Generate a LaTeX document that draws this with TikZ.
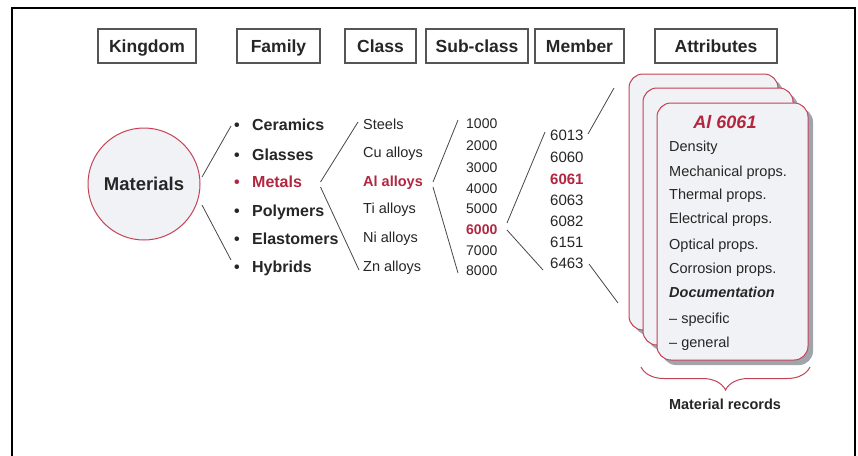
\documentclass[tikz,border=0pt]{standalone}
\usepackage{fontspec}
\setmainfont{Liberation Sans}
\usetikzlibrary{decorations.pathreplacing}
\definecolor{redtxt}{RGB}{178,38,64}
\definecolor{redline}{RGB}{196,66,86}
\definecolor{cardfill}{RGB}{241,242,245}
\definecolor{shadowc}{RGB}{160,164,172}
\definecolor{ink}{RGB}{38,38,38}
\definecolor{boxline}{RGB}{85,85,85}
\newcommand{\fs}[1]{\fontsize{#1}{#1}\selectfont}
\begin{document}
\begin{tikzpicture}[x=1pt,y=-1pt,
  hdr/.style={draw=boxline, line width=1.3pt, fill=white, font=\fs{17.5}\bfseries, text=ink, inner sep=0pt, minimum height=34pt, text height=12.6pt, text depth=0pt},
  txt/.style={anchor=west, inner sep=0pt, text=ink, text depth=0pt},
  fam/.style={txt, font=\fs{16}\bfseries, text height=11.5pt},
  cls/.style={txt, font=\fs{14.5}, text height=10.4pt},
  sub/.style={txt, font=\fs{14}, text height=10.1pt},
  mem/.style={txt, font=\fs{15}, text height=10.8pt},
  att/.style={txt, font=\fs{14.5}, text height=10.4pt},
  hil/.style={text=redtxt, font=\fs{#1}\bfseries},
  conn/.style={draw=ink!85, line width=0.8pt},
  card/.style={draw=redline, line width=1pt, fill=cardfill, rounded corners=14pt},
  cshadow/.style={fill=shadowc, rounded corners=14pt}
]
\useasboundingbox (0,0) rectangle (858,455);
\fill[white] (0,0) rectangle (858,455);
% frame
\draw[line width=2.6pt, black] (12,456) -- (12,8) -- (855,8) -- (855,456);

% headers
\node[hdr, minimum width=98pt] (hK) at (147,46) {Kingdom};
\node[hdr, minimum width=83pt] (hF) at (278.5,46) {Family};
\node[hdr, minimum width=71pt] (hC) at (380.5,46) {Class};
\node[hdr, minimum width=102pt] (hS) at (477,46) {Sub-class};
\node[hdr, minimum width=89pt] (hM) at (579.5,46) {Member};
\node[hdr, minimum width=122pt] (hA) at (716,46) {Attributes};

% kingdom
\node[circle, draw=redline, line width=1pt, fill=cardfill, minimum size=112pt, inner sep=0pt,
      font=\fs{18.5}\bfseries, text=ink, text height=13.3pt, text depth=0pt] (mat) at (144,184) {Materials};

% family
\node[fam] (f1) at (234,125) {\makebox[18pt][l]{•}Ceramics};
\node[fam] (f2) at (234,155) {\makebox[18pt][l]{•}Glasses};
\node[fam, hil=16] (f3) at (234,182) {\makebox[18pt][l]{•}Metals};
\node[fam] (f4) at (234,211) {\makebox[18pt][l]{•}Polymers};
\node[fam] (f5) at (234,238.5) {\makebox[18pt][l]{•}Elastomers};
\node[fam] (f6) at (234,266.5) {\makebox[18pt][l]{•}Hybrids};

% class
\node[cls] (c1) at (363,124) {Steels};
\node[cls] (c2) at (363,152.5) {Cu alloys};
\node[cls, hil=14.5] (c3) at (363,181) {Al alloys};
\node[cls] (c4) at (363,208) {Ti alloys};
\node[cls] (c5) at (363,237.5) {Ni alloys};
\node[cls] (c6) at (363,266.5) {Zn alloys};

% sub-class
\node[sub] (s1) at (466,123) {1000};
\node[sub] (s2) at (466,145) {2000};
\node[sub] (s3) at (466,167) {3000};
\node[sub] (s4) at (466,188) {4000};
\node[sub] (s5) at (466,208) {5000};
\node[sub, hil=14] (s6) at (466,229) {6000};
\node[sub] (s7) at (466,250) {7000};
\node[sub] (s8) at (466,270) {8000};

% member
\node[mem] (m1) at (550,135) {6013};
\node[mem] (m2) at (550,157.5) {6060};
\node[mem, hil=15] (m3) at (550,179.5) {6061};
\node[mem] (m4) at (550,200) {6063};
\node[mem] (m5) at (550,221) {6082};
\node[mem] (m6) at (550,242.5) {6151};
\node[mem] (m7) at (550,263.5) {6463};

% connector end points
\coordinate (k1) at (202,177);  \coordinate (k1e) at (231,126);
\coordinate (k2) at (202,205);  \coordinate (k2e) at (231,260);
\coordinate (fa) at (320.5,182); \coordinate (fae) at (358,122);
\coordinate (fb) at (320.5,187); \coordinate (fbe) at (359,270);
\coordinate (ca) at (433,182);  \coordinate (cae) at (458,120);
\coordinate (cb) at (433,187);  \coordinate (cbe) at (458,273);
\coordinate (sa) at (507,223);  \coordinate (sae) at (545,132);
\coordinate (sb) at (507,230);  \coordinate (sbe) at (543,270);
\coordinate (ma) at (588,134);  \coordinate (mae) at (614,88);
\coordinate (mb) at (589,264);  \coordinate (mbe) at (618,303);

\draw[conn] (k1) -- (k1e);
\draw[conn] (k2) -- (k2e);
\draw[conn] (fa) -- (fae);
\draw[conn] (fb) -- (fbe);
\draw[conn] (ca) -- (cae);
\draw[conn] (cb) -- (cbe);
\draw[conn] (sa) -- (sae);
\draw[conn] (sb) -- (sbe);
\draw[conn] (ma) -- (mae);
\draw[conn] (mb) -- (mbe);

% cards
\fill[cshadow] (634,79) rectangle (783,335);
\draw[card] (629,74) rectangle (778,330);
\fill[cshadow] (648,93) rectangle (798,350);
\draw[card] (643,88) rectangle (793,345);
\fill[cshadow] (662,108) rectangle (813,365);
\draw[card] (657,103) rectangle (808,360);

\node[inner sep=0pt, text=redtxt, font=\fs{18}\bfseries\itshape, text height=12.9pt, text depth=0pt] (title) at (725,122) {Al 6061};
\node[att] (a1) at (669,146) {Density};
\node[att] (a2) at (669,171) {Mechanical props.};
\node[att] (a3) at (669,194) {Thermal props.};
\node[att] (a4) at (669,218) {Electrical props.};
\node[att] (a5) at (669,244) {Optical props.};
\node[att] (a6) at (669,268.5) {Corrosion props.};
\node[att, font=\fs{14.5}\bfseries\itshape] (a7) at (669,292) {Documentation};
\node[att] (a8) at (669,318.5) {– specific};
\node[att] (a9) at (669,342.5) {– general};

% brace
\coordinate (bl) at (641,367);
\coordinate (br) at (810,367);
\draw[redline, line width=1pt, decorate, decoration={brace, mirror, amplitude=23pt, aspect=0.5}] (bl) -- (br);
\node[inner sep=0pt, text=ink, font=\fs{14.5}\bfseries, text height=10.4pt, text depth=0pt] (rec) at (725,404) {Material records};
\end{tikzpicture}
\end{document}
